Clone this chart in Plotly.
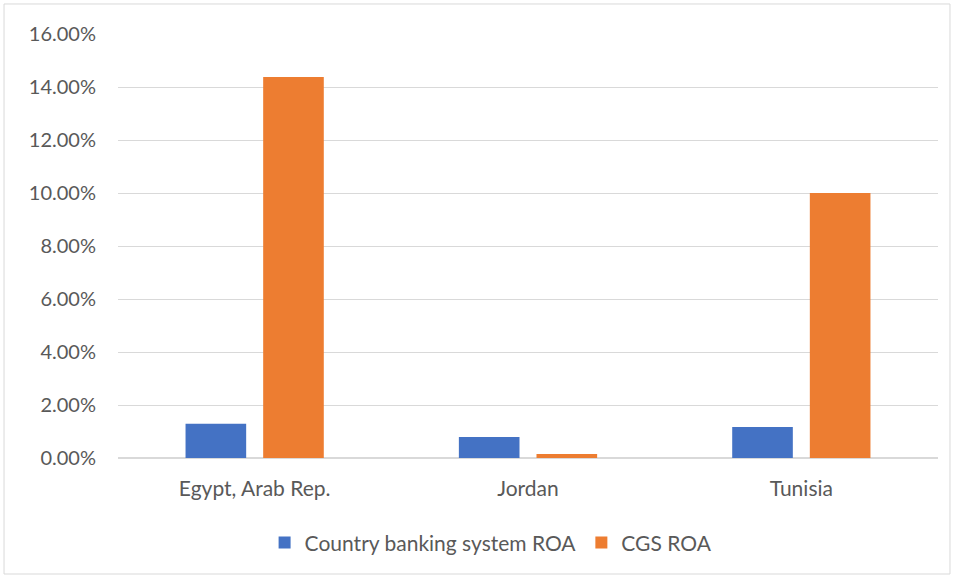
import plotly.graph_objects as go

categories = ["Egypt, Arab Rep.", "Jordan", "Tunisia"]
banking_roa = [0.0129, 0.0079, 0.0117]
cgs_roa = [0.1438, 0.0015, 0.1000]
tick_vals = [0, 0.02, 0.04, 0.06, 0.08, 0.10, 0.12, 0.14, 0.16]

FONT = "Lato, 'Open Sans', sans-serif"
GREY = "#595959"

fig = go.Figure()
fig.add_trace(go.Bar(name="Country banking system ROA", x=categories, y=banking_roa,
                     marker=dict(color="#4472C4", line=dict(width=0))))
fig.add_trace(go.Bar(name="CGS ROA", x=categories, y=cgs_roa,
                     marker=dict(color="#ED7D31", line=dict(width=0))))

fig.update_layout(
    width=954, height=576,
    margin=dict(l=118, r=16, t=34, b=118),
    paper_bgcolor="white", plot_bgcolor="white",
    barmode="group", bargap=0.432, bargroupgap=0.219,
    font=dict(family=FONT, size=20, color=GREY),
    showlegend=True,
    legend=dict(orientation="h", x=0.455, xanchor="center", y=-0.2, yanchor="middle",
                font=dict(size=21, color=GREY), itemwidth=30),
    xaxis=dict(showline=False, ticks="", ticklabelstandoff=16, showgrid=False,
               tickfont=dict(size=21)),
    yaxis=dict(range=[0, 0.16], tickvals=tick_vals, tickformat=".2%",
               showgrid=True, gridcolor="#d9d9d9", gridwidth=1,
               zeroline=True, zerolinecolor="#d9d9d9", zerolinewidth=2,
               ticks="", ticklabelstandoff=21, showline=False,
               tickfont=dict(size=20)),
    shapes=[dict(type="rect", xref="paper", yref="paper",
                 x0=-0.139, x1=1.0146, y0=-0.2736, y1=1.0708,
                 line=dict(color="#d9d9d9", width=1), fillcolor="rgba(0,0,0,0)", layer="below")],
)

fig.write_html("out.html")
